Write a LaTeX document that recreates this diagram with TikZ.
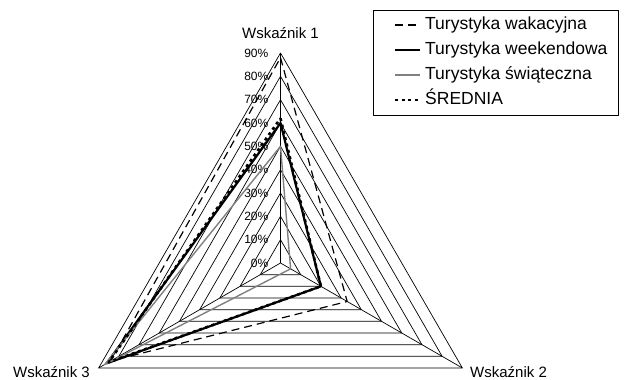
\documentclass[tikz,border=0pt]{standalone}
\usepackage{fontspec}
\setmainfont{Liberation Sans}
\tikzset{
  grid/.style={line width=0.7pt},
  pct/.style={font=\fontsize{12}{14}\selectfont,anchor=east,inner sep=0pt},
  axlab/.style={font=\fontsize{15}{18}\selectfont,inner sep=0pt},
  leglab/.style={font=\fontsize{17.5}{20}\selectfont,anchor=base west,inner sep=0pt},
  wakacyjna/.style={line width=1.2pt,dash pattern=on 8pt off 5pt},
  weekendowa/.style={line width=2.2pt},
  swiateczna/.style={line width=1.4pt,color=gray},
  srednia/.style={line width=2.6pt,dash pattern=on 3pt off 3.5pt},
}
\begin{document}
\begin{tikzpicture}[x=1pt,y=1pt,line join=round]
\def\u{2.3333} % one percent
\useasboundingbox (-280.5,-117) rectangle (348.5,263);
% siatka
\foreach \v in {10,20,...,90}
  \draw[grid] (90:{\v*\u}) -- (-30:{\v*\u}) -- (210:{\v*\u}) -- cycle;
\foreach \a in {90,-30,210}
  \draw[grid] (0,0) -- (\a:{90*\u});
\foreach \v in {0,10,...,90}
  \node[pct] (p\v) at (-12,{\v*\u}) {\v\%};
% osie
\node[axlab,anchor=base] (w1) at (0,224) {Wskaźnik 1};
\node[axlab,anchor=base west] (w2) at (189.5,-114) {Wskaźnik 2};
\node[axlab,anchor=base east] (w3) at (-190.5,-114) {Wskaźnik 3};
% serie
\foreach \s/\a/\b/\c in {wakacyjna/88/33/84,weekendowa/60/20/86,swiateczna/50/5/87,srednia/62/20/85}
  \draw[\s] (90:{\a*\u}) -- (-30:{\b*\u}) -- (210:{\c*\u}) -- cycle;
% legenda
\draw[line width=0.7pt] (92.8,148) rectangle (337.8,253);
\foreach \s/\t [count=\i] in {wakacyjna/Turystyka wakacyjna,weekendowa/Turystyka weekendowa,swiateczna/Turystyka świąteczna,srednia/ŚREDNIA}{
  \node[leglab] (l\i) at (144.5,{258-25*\i}) {\t};
  \coordinate (s\i) at (114.5,{263-25*\i});
  \draw[\s] (s\i) -- ++(25,0);
}
\end{tikzpicture}
\end{document}
